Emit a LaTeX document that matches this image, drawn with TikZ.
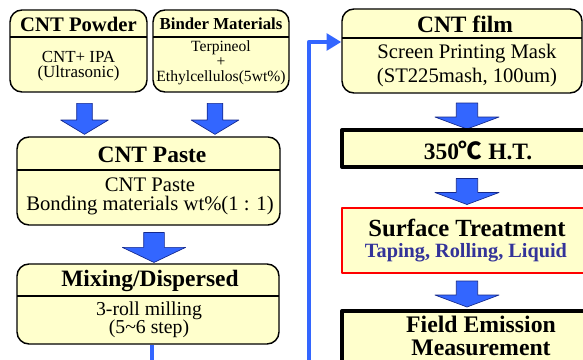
\documentclass[tikz,border=0pt]{standalone}
\usepackage{fontspec}
\setmainfont{Liberation Serif}
\newfontfamily\cjk{Noto Sans CJK SC}
\usetikzlibrary{positioning}
\usetikzlibrary{fit}
\usetikzlibrary{shapes.arrows}
\usetikzlibrary{arrows.meta}

\definecolor{boxyellow}{RGB}{255,255,204}
\definecolor{arrowblue}{RGB}{51,102,255}
\definecolor{arrowedge}{RGB}{20,40,140}
\definecolor{notenavy}{RGB}{51,51,153}
\newcommand{\fsz}[2]{\fontsize{#1}{#2}\selectfont}

\begin{document}
\begin{tikzpicture}[
    x=0.75pt, y=-0.75pt,
    line join=round
]
\tikzset{
    cardbox/.style = {draw=black, line width=1.1pt, rounded corners=9pt, fill=boxyellow, inner sep=0pt},
    stepbox/.style = {draw=black, line width=3pt, fill=boxyellow, inner sep=0pt},
    hotbox/.style  = {draw=red, line width=1.7pt, fill=boxyellow, inner sep=0pt},
    divider/.style = {draw=black, line width=0.8pt},
    title/.style   = {font=\bfseries\fsz{17.6}{21}, inner sep=0pt},
    body/.style    = {font=\fsz{15.5}{18}, align=center, inner sep=0pt},
    downarrow/.style = {single arrow, shape border rotate=270, draw=arrowedge, fill=arrowblue,
                        line width=0.5pt},
    smallarrow/.style = {downarrow, inner sep=5.6pt, minimum height=23.25pt,
                         single arrow head extend=12pt, single arrow tip angle=118},
    bigarrow/.style   = {downarrow, inner sep=7.5pt, minimum height=22.5pt,
                         single arrow head extend=16pt, single arrow tip angle=129},
    flatarrow/.style  = {downarrow, inner sep=7.8pt, minimum height=19.5pt,
                         single arrow head extend=16pt, single arrow tip angle=139},
    feedline/.style = {draw=arrowblue, line width=3.5pt, -{Triangle[length=11pt,width=12.5pt]}}
}
\useasboundingbox (0,0) rectangle (583,360);
\clip (0,0) rectangle (583,360);

% left column
\node[cardbox, fit={(10,10) (147,92)}] (powder) {};
\draw[divider] (10,37) -- (147,37);
\node[title, font=\bfseries\fsz{15.5}{18}] (powdertitle) at (78.5,24) {CNT Powder};
\node[body, font=\fsz{12.7}{11.5}] (powdertext) at (78.5,66) {CNT+ IPA\\(Ultrasonic)};

\node[cardbox, fit={(153,10) (289,92)}] (binder) {};
\draw[divider] (153,37) -- (289,37);
\node[title, font=\bfseries\fsz{12.6}{15}] (bindertitle) at (221,24) {Binder Materials};
\node[body, font=\fsz{11.7}{11.25}] (bindertext) at (221,63) {Terpineol\\+\\Ethylcellulos(5wt\%)};

\node[smallarrow] (a1) at (84.5,116.5) {};
\node[smallarrow] (a2) at (215,116.5) {};

\node[cardbox, fit={(17,137) (280,225)}] (paste) {};
\draw[divider] (17,170) -- (280,170);
\node[title] (pastetitle) at (152,155) {CNT Paste};
\node[body, font=\fsz{15.5}{14.3}] (pastetext) at (150,196) {CNT Paste\\Bonding materials wt\%(1 : 1)};

\node[bigarrow] (a3) at (154,245) {};

\node[cardbox, fit={(17,264) (279,344)}] (mix) {};
\draw[divider] (17,296) -- (279,296);
\node[title] (mixtitle) at (150,281) {Mixing/Dispersed};
\node[body, font=\fsz{14.8}{13.5}] (mixtext) at (149,320) {3-roll milling\\(5\textasciitilde6 step)};

% right column
\node[cardbox, fit={(342,9) (582,93)}] (film) {};
\draw[divider] (342,38) -- (582,38);
\node[title] (filmtitle) at (465,24) {CNT film};
\node[body, font=\fsz{15.5}{18}] (filmtext) at (467,66) {Screen Printing Mask\\(ST225mash, 100um)};

\node[flatarrow] (a4) at (467,114) {};

\node[stepbox, fit={(342,130) (595,167)}] (heat) {};
\node[title] (heattext) at (478,150) {350{\cjk ℃} H.T.};

\node[flatarrow] (a5) at (467,189.5) {};

\node[hotbox, fit={(342,208) (595,273)}] (surface) {};
\node[title, font=\bfseries\fsz{18.5}{22}] (surfacetitle) at (467,228) {Surface Treatment};
\node[title, font=\bfseries\fsz{15.2}{18}, text=notenavy] (surfacetext) at (466,253) {Taping, Rolling, Liquid};

\node[flatarrow] (a6) at (467,292) {};

\node[stepbox, fit={(342,311) (595,420)}] (emission) {};
\node[title, align=center, font=\bfseries\fsz{17.8}{17.5}] (emissiontext) at (481,336) {Field Emission\\Measurement};

% feedback line
\coordinate (loopcorner) at (309,400);
\draw[feedline] ([xshift=3pt]mix.south) |- (loopcorner) |- ([yshift=6.75pt]film.west);
\end{tikzpicture}
\end{document}
